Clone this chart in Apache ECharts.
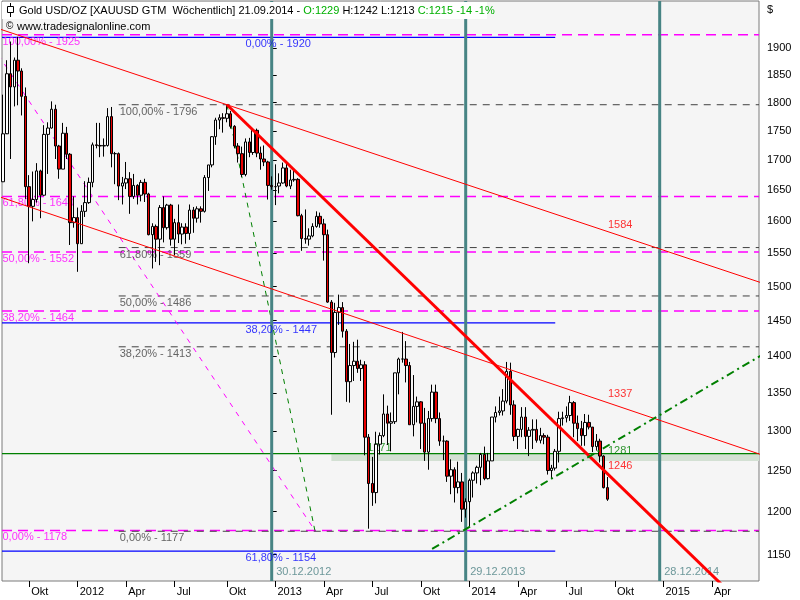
<!DOCTYPE html>
<html>
<head>
<meta charset="utf-8">
<script src="https://cdn.jsdelivr.net/npm/echarts@6/dist/echarts.min.js"></script>
<style>html,body{margin:0;padding:0;background:#fff}#c{width:800px;height:600px}</style>
</head>
<body>
<div id="c"></div>
<script>
// ---------------- DATA ----------------
const firstWeek = '2011-08-14';   // weekly bars, dated on the Sunday closing the week
const open = [
1664,1745,1852,1828,1877,1857,1811,1656,1624,1635,
1682,1642,1744,1755,1788,1724,1685,1746,1710,1598,
1606,1565,1616,1630,1663,1726,1725,1724,1725,1775,
1711,1711,1657,1662,1669,1640,1658,1642,1663,1644,
1579,1592,1572,1622,1590,1626,1572,1598,1580,1591,
1581,1618,1605,1620,1616,1671,1692,1740,1769,1773,
1772,1780,1758,1724,1711,1676,1731,1713,1751,1712,
1702,1697,1658,1656,1657,1662,1687,1657,1667,1668,
1609,1573,1572,1577,1592,1608,1596,1579,1477,1405,
1462,1469,1435,1365,1387,1393,1383,1388,1292,1234,
1223,1283,1294,1322,1310,1312,1377,1396,1396,1387,
1308,1332,1338,1310,1273,1316,1351,1316,1287,1287,
1243,1251,1229,1236,1203,1212,1238,1247,1254,1270,
1240,1262,1318,1324,1326,1339,1379,1334,1293,1302,
1318,1293,1301,1302,1288,1294,1292,1250,1253,1274,
1316,1317,1320,1337,1310,1303,1294,1311,1305,1280,
1287,1268,1229];
const high = [
1814,1877,1912,1882,1921,1862,1827,1675,1681,1695,
1684,1760,1765,1802,1796,1726,1764,1757,1712,1640,
1622,1626,1665,1671,1730,1764,1764,1737,1790,1792,
1714,1713,1672,1697,1680,1677,1660,1667,1669,1646,
1597,1595,1626,1640,1628,1628,1604,1627,1597,1597,
1627,1623,1624,1624,1675,1692,1741,1773,1779,1781,
1796,1785,1760,1729,1723,1737,1738,1753,1754,1723,
1725,1699,1673,1693,1678,1696,1697,1684,1685,1670,
1612,1619,1589,1597,1616,1614,1604,1587,1480,1476,
1488,1477,1438,1417,1420,1423,1395,1393,1296,1267,
1299,1298,1348,1333,1324,1377,1398,1434,1421,1392,
1374,1345,1339,1330,1326,1361,1361,1324,1294,1288,
1264,1254,1261,1247,1216,1240,1249,1256,1272,1280,
1272,1318,1332,1345,1355,1392,1391,1340,1303,1331,
1331,1305,1315,1315,1304,1297,1295,1257,1277,1325,
1325,1332,1346,1339,1320,1313,1322,1321,1305,1296,
1290,1269,1242];
const low = [
1664,1746,1702,1793,1795,1777,1636,1535,1600,1630,
1605,1641,1677,1754,1702,1669,1685,1702,1563,1590,
1522,1565,1607,1628,1655,1720,1705,1706,1723,1688,
1660,1634,1627,1652,1612,1636,1627,1632,1631,1578,
1527,1537,1532,1567,1587,1562,1547,1566,1564,1565,
1571,1582,1598,1598,1614,1649,1688,1726,1753,1747,
1765,1754,1720,1696,1672,1673,1705,1709,1705,1684,
1690,1635,1651,1626,1645,1661,1655,1652,1664,1608,
1554,1565,1562,1575,1590,1590,1539,1476,1321,1398,
1444,1426,1338,1337,1366,1377,1366,1269,1180,1207,
1210,1270,1292,1282,1274,1309,1348,1391,1364,1308,
1293,1311,1277,1262,1251,1312,1310,1281,1263,1236,
1221,1211,1222,1188,1193,1182,1217,1234,1232,1238,
1239,1262,1311,1320,1320,1336,1321,1287,1277,1292,
1277,1268,1277,1285,1284,1283,1245,1240,1250,1260,
1307,1311,1313,1292,1287,1281,1281,1302,1273,1275,
1260,1228,1213];
const close = [
1745,1852,1828,1877,1857,1811,1656,1624,1635,1682,
1642,1744,1755,1788,1724,1685,1746,1710,1598,1606,
1565,1616,1630,1663,1726,1725,1724,1725,1775,1711,
1711,1657,1662,1669,1640,1658,1642,1663,1644,1579,
1592,1572,1622,1590,1626,1572,1598,1580,1591,1581,
1618,1605,1620,1616,1671,1692,1740,1769,1773,1772,
1780,1758,1724,1711,1676,1731,1713,1751,1712,1702,
1697,1658,1656,1656,1662,1687,1657,1667,1668,1609,
1573,1572,1577,1592,1608,1596,1579,1477,1405,1462,
1469,1435,1365,1387,1393,1383,1388,1292,1234,1223,
1283,1294,1322,1310,1312,1377,1396,1396,1387,1308,
1332,1338,1310,1273,1316,1351,1316,1287,1287,1243,
1251,1229,1236,1203,1212,1238,1247,1254,1270,1240,
1262,1318,1324,1326,1339,1379,1334,1293,1302,1318,
1293,1301,1302,1288,1294,1292,1250,1253,1274,1316,
1317,1320,1337,1310,1303,1294,1311,1305,1280,1287,
1268,1229,1215];

const yTickValues = [1150,1200,1250,1300,1350,1400,1450,1500,1550,1600,1650,1700,1750,1800,1850,1900];
const xTickDates  = ['2011-10-02','2012-01-01','2012-04-01','2012-07-01','2012-10-07','2013-01-06','2013-04-07',
                     '2013-07-07','2013-10-06','2014-01-05','2014-04-06','2014-07-06','2014-10-05','2015-01-04','2015-04-05'];
const xTickLabels = ['Okt','2012','Apr','Jul','Okt','2013','Apr','Jul','Okt','2014','Apr','Jul','Okt','2015','Apr'];

// Fibonacci retracement sets
const fibMagentaLevels = [1925,1640,1552,1464,1178];
const fibMagentaPct    = ['100,00%','61,80%','50,00%','38,20%','0,00%'];
const fibGrayLevels    = [1796,1559,1486,1413,1177];
const fibGrayPct       = ['100,00%','61,80%','50,00%','38,20%','0,00%'];
const fibGrayStart     = '2012-03-18';
const fibBlueLevels    = [1920,1447,1154];
const fibBluePct       = ['0,00%','38,20%','61,80%'];
const fibBlueEnd       = '2014-06-15';

// support zone
const supportLevel = 1271;
const supportZoneLow = 1262;
const supportZoneStart = '2013-04-21';
const supportLabelDate = '2013-06-28';

// trend lines: two anchor points [date, price]
const upperChannel = [['2012-10-07',1796],['2014-09-21',1584]];
const lowerChannel = [['2012-01-01',1597],['2014-09-21',1337]];
const downTrend    = [['2012-10-07',1796],['2014-09-21',1246]];
const upTrend      = [['2014-01-05',1182],['2014-09-21',1281]];
const upTrendStart = '2013-10-27';
const fanMagenta   = [['2011-08-11',1878],['2013-03-21',1178]];
const fanGreen     = [['2012-10-07',1796],['2013-03-21',1178]];

// year markers
const yearLines = ['2012-12-30','2013-12-29','2014-12-28'];

// value tags at the last bar
const tagValues = [1584,1337,1281,1246];
const tagDate = '2014-09-21';

// ---------------- HELPERS ----------------
const DAY = 86400000, WEEK = 7*DAY;
const BASE = Date.UTC(2012,11,30);
const wk = s => (Date.parse(s + 'T00:00:00Z') - BASE) / WEEK;
const L = Math.log;
const t0 = Date.parse(firstWeek + 'T00:00:00Z');
const dates = open.map((_, i) => new Date(t0 + i*WEEK).toISOString().slice(0,10));

const X_MIN = -72.29, X_MAX = 130.62;
const Y_MIN = L(1120.4), Y_MAX = L(1990.4);
const FONT = '"Liberation Sans", Arial, sans-serif';

const series = [];
function seg(pts, color, width, type, z) {
  series.push({type:'line', data:pts, symbol:'none', silent:true, animation:false,
    lineStyle:{color:color, width:width, type:type}, z:z});
}
function extend(a, b, w0, w1) {
  const wa = wk(a[0]), wb = wk(b[0]), la = L(a[1]), lb = L(b[1]);
  const s = (lb - la) / (wb - wa);
  return [[w0, la + s*(w0 - wa)], [w1, la + s*(w1 - wa)]];
}
function texts(items, color, pos, va, z) {
  series.push({type:'scatter', symbolSize:1, silent:true, clip:false, z:z, animation:false,
    itemStyle:{color:'rgba(0,0,0,0)'},
    data: items.map(it => ({value:[it[0], it[1]], label:{formatter:it[2]}})),
    label:{show:true, position:pos, align:'left', verticalAlign:va, color:color, fontSize:11, fontFamily:FONT}});
}

// support line + zone
series.push({type:'line', data:[[X_MIN, L(supportLevel)],[X_MAX, L(supportLevel)]], symbol:'none', silent:true,
  lineStyle:{color:'#008000', width:1.2}, z:1,
  markArea:{silent:true, itemStyle:{color:'#d3e0d3'},
    data:[[{coord:[wk(supportZoneStart), L(supportLevel)]},{coord:[X_MAX, L(supportZoneLow)]}]]}});
texts([[wk(supportLabelDate), L(supportLevel), String(supportLevel)]], '#008000', [0, 0], 'bottom', 1);

// horizontal fib lines
fibMagentaLevels.forEach(v => seg([[X_MIN, L(v)],[X_MAX, L(v)]], '#ff00ff', 1.5, [10,6], 2));
fibGrayLevels.forEach(v => seg([[wk(fibGrayStart), L(v)],[X_MAX, L(v)]], '#404040', 1, [7,6], 2));
fibBlueLevels.forEach(v => seg([[X_MIN, L(v)],[wk(fibBlueEnd), L(v)]], '#0000ff', 1.2, 'solid', 2));
texts(fibMagentaLevels.map((v,i) => [X_MIN, L(v), fibMagentaPct[i] + ' - ' + v]), '#ff00ff', [1, 2], 'top', 3);
texts(fibGrayLevels.map((v,i) => [wk(fibGrayStart), L(v), fibGrayPct[i] + ' - ' + v]), '#404040', [1.5, 2], 'top', 3);
texts(fibBlueLevels.map((v,i) => [-6.9, L(v), fibBluePct[i] + ' - ' + v]), '#0000ff', [0, 2], 'top', 3);

// fan diagonals
seg(extend(fanMagenta[0], fanMagenta[1], X_MIN - 1, wk(fanMagenta[1][0])), '#ff00ff', 1, [5,6], 2);
seg(extend(fanGreen[0], fanGreen[1], wk(fanGreen[0][0]), wk(fanGreen[1][0])), '#008000', 1, [5,5], 2);

// year marker lines
yearLines.forEach(d => seg([[wk(d), Y_MIN],[wk(d), Y_MAX]], '#478484', 3, 'solid', 3));
texts(yearLines.map(d => [wk(d), Y_MIN, d.slice(8,10) + '.' + d.slice(5,7) + '.' + d.slice(0,4)]), '#4a7f82', [5, -3], 'bottom', 3);

// candles
series.push({type:'candlestick', z:4, animation:false, silent:true, barWidth:3,
  encode:{x:0, y:[1,2,3,4]},
  data: dates.map((d,i) => [wk(d), L(open[i]), L(close[i]), L(low[i]), L(high[i])]),
  itemStyle:{color:'#ffffff', color0:'#e80000', borderColor:'#000000', borderColor0:'#000000', borderColorDoji:'#000000', borderWidth:1}});

// trend lines
seg(extend(upperChannel[0], upperChannel[1], X_MIN - 1, X_MAX + 1), '#ff0000', 1, 'solid', 5);
seg(extend(lowerChannel[0], lowerChannel[1], X_MIN - 1, X_MAX + 1), '#ff0000', 1, 'solid', 5);
seg(extend(downTrend[0], downTrend[1], wk(downTrend[0][0]), X_MAX + 1), '#ff0000', 3, 'solid', 5);
seg(extend(upTrend[0], upTrend[1], wk(upTrendStart), X_MAX + 1), '#008000', 2, [8,4,2,4], 5);

// value tags
const tagColors = ['#ff0000','#ff0000','#008000','#ff0000'];
const tagDy = [-6.4, -8.4, 4.7, -7.5];
tagValues.forEach((v,i) => texts([[wk(tagDate), L(v), String(v)]], tagColors[i], [1, tagDy[i] - 5], 'top', 6));

// title
const n = close.length - 1;
const chg = close[n] - close[n-1];
const pct = Math.round(chg / close[n-1] * 100);
const dTitle = dates[n].slice(8,10) + '.' + dates[n].slice(5,7) + '.' + dates[n].slice(0,4);
const titleText = '{k|Gold USD/OZ [XAUUSD GTM  Wöchentlich] ' + dTitle + ' - }{g|O:' + open[n] + '}{k| H:' + high[n] +
  ' L:' + low[n] + ' }{g|C:' + close[n] + ' ' + chg + ' ' + pct + '%}';

const chart = echarts.init(document.getElementById('c'), null, {renderer:'canvas', width:800, height:600});
chart.setOption({
  animation:false,
  backgroundColor:'#ffffff',
  grid:{left:2, right:41, top:1, bottom:19, show:true, backgroundColor:'#f5f5f5', borderColor:'#7a7a7a', borderWidth:1},
  xAxis:{type:'value', min:X_MIN, max:X_MAX,
    axisLine:{show:false}, splitLine:{show:false},
    axisTick:{show:true, length:6, lineStyle:{color:'#000'}, customValues: xTickDates.map(wk)},
    axisLabel:{customValues: xTickDates.map(wk), align:'left', margin:5, padding:[0,0,0,2],
      color:'#000', fontSize:11, fontFamily:FONT,
      formatter: v => xTickLabels[xTickDates.map(wk).findIndex(t => Math.abs(t - v) < 0.01)]}},
  yAxis:{type:'value', position:'right', min:Y_MIN, max:Y_MAX,
    axisLine:{show:false}, splitLine:{show:false},
    axisTick:{show:true, length:5, lineStyle:{color:'#000'}, customValues: yTickValues.map(L)},
    axisLabel:{customValues: yTickValues.map(L), margin:8, color:'#000', fontSize:11, fontFamily:FONT,
      formatter: v => String(Math.round(Math.exp(v)))}},
  graphic:[
    {type:'rect', shape:{x:2, y:2, width:485, height:17}, style:{fill:'#ffffff'}, z:100},
    {type:'line', shape:{x1:10.5, y1:3, x2:10.5, y2:17}, style:{stroke:'#000', lineWidth:1}, z:101},
    {type:'rect', shape:{x:7.5, y:6.5, width:6, height:6}, style:{fill:'#fff', stroke:'#000', lineWidth:1}, z:102},
    {type:'text', x:19, y:5, z:101, style:{text:titleText, font:'11px ' + FONT, fill:'#000',
      rich:{k:{fill:'#000', fontSize:11, fontFamily:FONT}, g:{fill:'#00b000', fontSize:11, fontFamily:FONT}}}},
    {type:'text', x:6, y:21, z:101, style:{text:'©', font:'10px ' + FONT, fill:'#000'}},
    {type:'text', x:17, y:21, z:101, style:{text:'www.tradesignalonline.com', font:'11px ' + FONT, fill:'#000'}},
    {type:'text', x:767, y:4, z:101, style:{text:'$', font:'11px ' + FONT, fill:'#000'}}
  ],
  series: series
});
</script>
</body>
</html>
